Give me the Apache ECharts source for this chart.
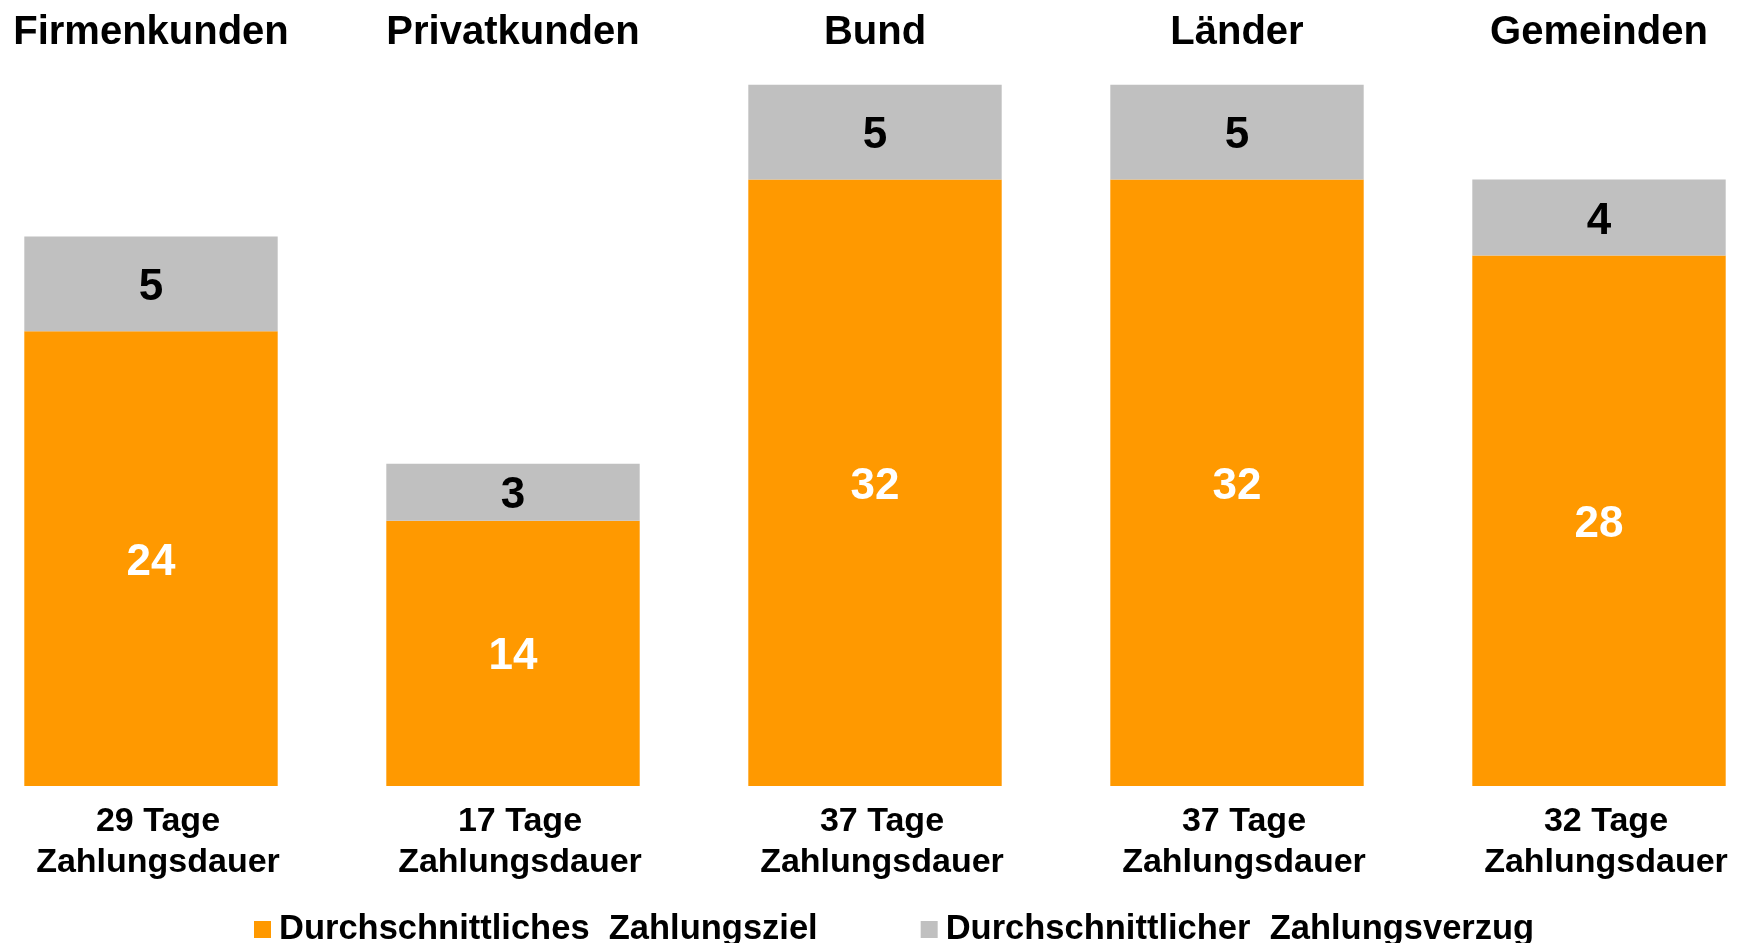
<!DOCTYPE html>
<html>
<head>
<meta charset="utf-8">
<script src="https://cdn.jsdelivr.net/npm/echarts@6/dist/echarts.min.js"></script>
<style>
  html, body { margin: 0; padding: 0; background: #fff; }
  #chart { width: 1746px; height: 943px; }
</style>
</head>
<body>
<div id="chart"></div>
<script>
// Kategorien (oben) und Werte je Segment
const categories = ['Firmenkunden', 'Privatkunden', 'Bund', 'Länder', 'Gemeinden'];
const zahlungsziel = [24, 14, 32, 32, 28];
const zahlungsverzug = [5, 3, 5, 5, 4];
const seriesNames = ['Durchschnittliches  Zahlungsziel', 'Durchschnittlicher  Zahlungsverzug'];

// Gesamtdauer = Ziel + Verzug, als Beschriftung unter den Balken
const totals = zahlungsziel.map((v, i) => v + zahlungsverzug[i]);
const bottomLabels = totals.map(t => t + ' Tage\nZahlungsdauer');

const FONT = "'Liberation Sans', Arial, sans-serif";
const ORANGE = '#FF9900';
const GREY = '#C0C0C0';

const chart = echarts.init(document.getElementById('chart'));

chart.setOption({
  animation: false,
  color: [ORANGE, GREY],
  textStyle: { fontFamily: FONT },
  grid: { left: -30, right: -34, top: 28, bottom: 157, outerBoundsMode: 'none' },
  legend: {
    left: 249,
    top: 907,
    itemWidth: 17,
    itemHeight: 17,
    itemGap: 103,
    icon: 'rect',
    textStyle: {
      fontFamily: FONT, fontSize: 34.5, fontWeight: 'bold', color: '#000',
      lineHeight: 34, padding: [0, 0, 0, 3]
    },
    data: seriesNames
  },
  xAxis: [
    {
      type: 'category',
      data: bottomLabels,
      axisLine: { show: false },
      axisTick: { show: false },
      axisLabel: {
        interval: 0,
        margin: 15,
        fontFamily: FONT, fontSize: 34, fontWeight: 'bold', color: '#000',
        lineHeight: 41,
        padding: [0, 0, 0, 14]
      }
    },
    {
      type: 'category',
      position: 'top',
      data: categories,
      axisLine: { show: false },
      axisTick: { show: false },
      axisLabel: {
        interval: 0,
        margin: -5,
        verticalAlign: 'middle',
        fontFamily: FONT, fontSize: 40, fontWeight: 'bold', color: '#000'
      }
    }
  ],
  yAxis: {
    type: 'value',
    min: 0,
    max: 40,
    show: false,
    splitLine: { show: false }
  },
  series: [
    {
      name: seriesNames[0],
      type: 'bar',
      stack: 'total',
      barWidth: '70%',
      data: zahlungsziel,
      itemStyle: { color: ORANGE },
      label: {
        show: true, position: 'inside', offset: [0, 4],
        fontFamily: FONT, fontSize: 44, fontWeight: 'bold', color: '#fff'
      }
    },
    {
      name: seriesNames[1],
      type: 'bar',
      stack: 'total',
      barWidth: '70%',
      data: zahlungsverzug,
      itemStyle: { color: GREY },
      label: {
        show: true, position: 'inside', offset: [0, 4],
        fontFamily: FONT, fontSize: 44, fontWeight: 'bold', color: '#000'
      }
    }
  ]
});
</script>
</body>
</html>
